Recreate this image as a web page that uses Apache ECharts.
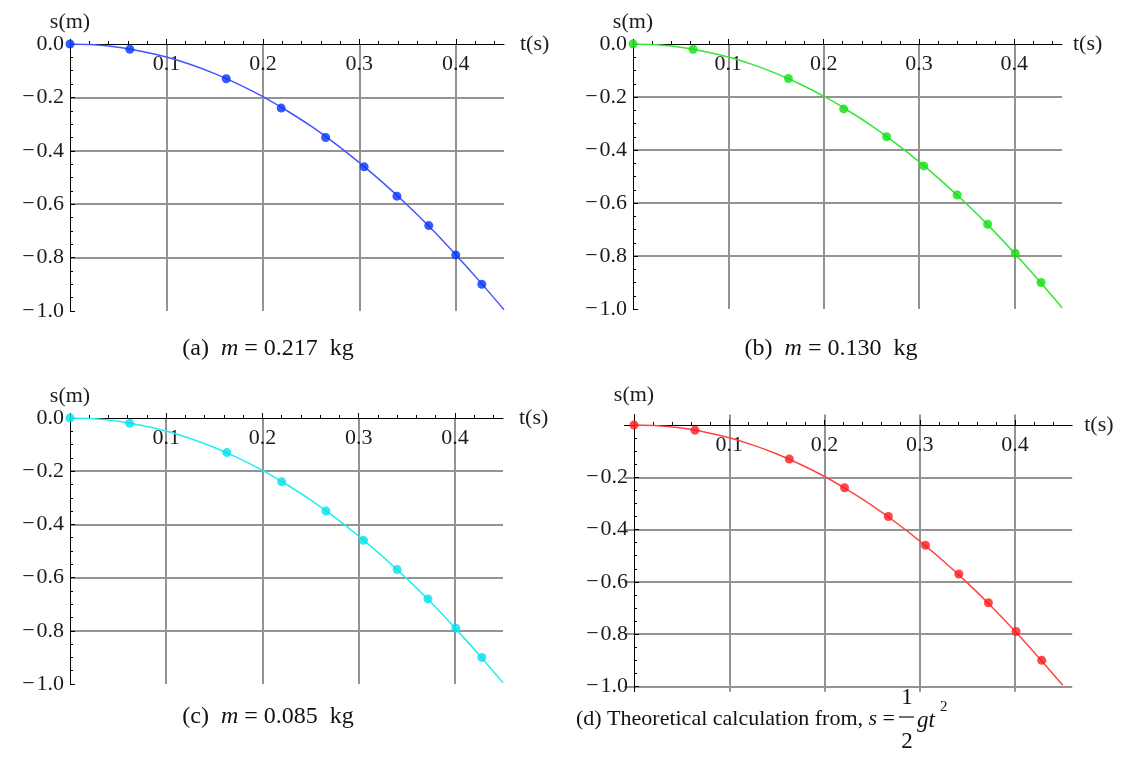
<!DOCTYPE html>
<html><head><meta charset="utf-8">
<script src="https://cdn.jsdelivr.net/npm/echarts@6/dist/echarts.min.js"></script>
<style>html,body{margin:0;padding:0;background:#fff}#c{width:1126px;height:780px}</style>
</head><body><div id="c"></div>
<script>
// ---------- data ----------
const tA = [0, 0.062, 0.162, 0.219, 0.265, 0.305, 0.339, 0.372, 0.400, 0.427];
const sA = [0, -0.02, -0.13, -0.24, -0.35, -0.46, -0.57, -0.68, -0.79, -0.90];
const tB = [0, 0.063, 0.163, 0.221, 0.266, 0.305, 0.340, 0.372, 0.401, 0.428];
const sB = [0, -0.02, -0.13, -0.245, -0.35, -0.46, -0.57, -0.68, -0.79, -0.90];
const tC = [0, 0.062, 0.163, 0.220, 0.266, 0.305, 0.340, 0.372, 0.401, 0.428];
const sC = [0, -0.02, -0.13, -0.24, -0.35, -0.46, -0.57, -0.68, -0.79, -0.90];
const tD = [0, 0.064, 0.163, 0.221, 0.267, 0.306, 0.341, 0.372, 0.401, 0.428];
const sD = [0, -0.02, -0.13, -0.24, -0.35, -0.46, -0.57, -0.68, -0.79, -0.90];

const curveT = [0, 0.025, 0.05, 0.075, 0.1, 0.125, 0.15, 0.175, 0.2, 0.225, 0.25, 0.275, 0.3, 0.325, 0.35, 0.375, 0.4, 0.425, 0.45];
const curveA = [0, -0.003, -0.012, -0.028, -0.049, -0.077, -0.111, -0.151, -0.197, -0.25, -0.308, -0.373, -0.444, -0.521, -0.604, -0.693, -0.789, -0.89, -0.995];
const curveB = [0, -0.003, -0.012, -0.028, -0.049, -0.077, -0.111, -0.151, -0.197, -0.25, -0.308, -0.373, -0.444, -0.521, -0.604, -0.693, -0.789, -0.89, -0.995];
const curveC = [0, -0.003, -0.012, -0.028, -0.049, -0.077, -0.111, -0.151, -0.197, -0.25, -0.308, -0.373, -0.444, -0.521, -0.604, -0.693, -0.789, -0.89, -0.995];
const curveD = [0, -0.003, -0.012, -0.028, -0.049, -0.077, -0.111, -0.151, -0.197, -0.25, -0.308, -0.373, -0.444, -0.521, -0.604, -0.693, -0.789, -0.89, -0.995];

// tick values
const xMajorTicks = [0, 0.1, 0.2, 0.3, 0.4];
const xTickLabels = [0.1, 0.2, 0.3, 0.4];
const xMinorTicks = [0.02, 0.04, 0.06, 0.08, 0.12, 0.14, 0.16, 0.18, 0.22, 0.24, 0.26, 0.28, 0.32, 0.34, 0.36, 0.38, 0.42, 0.44];
const yMajorTicks = [-1.0, -0.8, -0.6, -0.4, -0.2, 0];
const yMinorTicks = [-0.95, -0.9, -0.85, -0.75, -0.7, -0.65, -0.55, -0.5, -0.45, -0.35, -0.3, -0.25, -0.15, -0.1, -0.05];
const yTickLabelsABC = [-1.0, -0.8, -0.6, -0.4, -0.2, 0];
const yTickLabelsD = [-1.0, -0.8, -0.6, -0.4, -0.2];

const captionA = ['(a)  ', 'm', ' = 0.217  kg'];
const captionB = ['(b)  ', 'm', ' = 0.130  kg'];
const captionC = ['(c)  ', 'm', ' = 0.085  kg'];
const captionD = ['(d) Theoretical calculation from, ', 's', ' =', '1', '2', 'gt', '2'];

// ---------- layout / style ----------
const FONT = 'Liberation Serif';
const panels = [
  {t: tA, s: sA, c: curveA, left: 70, top: 44, width: 434, height: 267, xmin: 0, xmax: 0.45, ymin: -1.0, ymax: 0,
   yl: yTickLabelsABC, minLine: false, line: '#4455ff', dot: '#0033ff', xGap: 16, yGap: 9},
  {t: tB, s: sB, c: curveB, left: 633, top: 44, width: 429, height: 265, xmin: 0, xmax: 0.45, ymin: -1.0, ymax: 0,
   yl: yTickLabelsABC, minLine: false, line: '#33e833', dot: '#11dd11', xGap: 11, yGap: 9},
  {t: tC, s: sC, c: curveC, left: 70, top: 418, width: 433, height: 266, xmin: 0, xmax: 0.45, ymin: -1.0, ymax: 0,
   yl: yTickLabelsABC, minLine: false, line: '#22eeee', dot: '#00e0ee', xGap: 16, yGap: 9},
  {t: tD, s: sD, c: curveD, left: 624.5, top: 414.5, width: 447.7, height: 277.2, xmin: -0.01, xmax: 0.46, ymin: -1.02, ymax: 0.04,
   yl: yTickLabelsD, minLine: true, line: '#ff4444', dot: '#ff1a1a', xGap: 12, yGap: 8}
];

const labelStyle = {fontFamily: FONT, fontSize: 22, color: '#1c1c1c'};
const grid = [], xAxis = [], yAxis = [], series = [];
const fmtY = v => (Math.abs(v) < 1e-9 ? '0.0' : '\u2212\u200A' + Math.abs(v).toFixed(1));

panels.forEach((p, i) => {
  grid.push({left: p.left, top: p.top, width: p.width, height: p.height, containLabel: false});
  const xi = 2 * i, yi = 2 * i;
  // axes cross at (0,0): shift the top x axis down and the left y axis right to the zero position
  const xOff = -(p.ymax / (p.ymax - p.ymin)) * p.height;
  const yOff = -((0 - p.xmin) / (p.xmax - p.xmin)) * p.width;
  xAxis.push({
    type: 'value', gridIndex: i, min: p.xmin, max: p.xmax, position: 'top', offset: xOff,
    axisLine: {show: true, onZero: false, lineStyle: {color: '#000', width: 1}},
    axisTick: {show: true, inside: false, length: 5, customValues: xMajorTicks, lineStyle: {color: '#000', width: 1}},
    axisLabel: {show: true, inside: true, customValues: xTickLabels, formatter: v => v.toFixed(1), margin: 9, ...labelStyle},
    splitLine: {show: true, showMinLine: false, showMaxLine: true, lineStyle: {color: '#939393', width: 2}},
    minorTick: {show: false},
    name: 't(s)', nameLocation: 'end', nameGap: p.xGap,
    nameTextStyle: {fontFamily: FONT, fontSize: 22, color: '#1c1c1c', verticalAlign: 'middle'}
  });
  xAxis.push({
    type: 'value', gridIndex: i, min: p.xmin, max: p.xmax, position: 'top', offset: xOff,
    axisLine: {show: false, onZero: false},
    axisTick: {show: true, inside: false, length: 3, customValues: xMinorTicks, lineStyle: {color: '#000', width: 1}},
    axisLabel: {show: false}, splitLine: {show: false}
  });
  yAxis.push({
    type: 'value', gridIndex: i, min: p.ymin, max: p.ymax, position: 'left', offset: yOff,
    axisLine: {show: true, onZero: false, lineStyle: {color: '#000', width: 1}},
    axisTick: {show: true, inside: true, length: 5, customValues: yMajorTicks, lineStyle: {color: '#000', width: 1}},
    axisLabel: {show: true, customValues: p.yl, formatter: fmtY, margin: 6, ...labelStyle},
    splitLine: {show: true, showMinLine: p.minLine, showMaxLine: false, lineStyle: {color: '#939393', width: 2}},
    minorTick: {show: false},
    name: 's(m)', nameLocation: 'end', nameGap: p.yGap,
    nameTextStyle: {fontFamily: FONT, fontSize: 22, color: '#1c1c1c'}
  });
  yAxis.push({
    type: 'value', gridIndex: i, min: p.ymin, max: p.ymax, position: 'left', offset: yOff,
    axisLine: {show: false, onZero: false},
    axisTick: {show: true, inside: true, length: 3, customValues: yMinorTicks, lineStyle: {color: '#000', width: 1}},
    axisLabel: {show: false}, splitLine: {show: false}
  });
  series.push({
    type: 'line', xAxisIndex: xi, yAxisIndex: yi, data: curveT.map((t, k) => [t, p.c[k]]),
    showSymbol: false, smooth: 0.3, lineStyle: {color: p.line, width: 1.5}, silent: true, z: 3
  });
  series.push({
    type: 'scatter', xAxisIndex: xi, yAxisIndex: yi, data: p.t.map((t, k) => [t, p.s[k]]),
    symbol: 'circle', symbolSize: 9, itemStyle: {color: p.dot}, silent: true, z: 4
  });
});

function caption(parts, x, y) {
  return {
    type: 'text', x: x, y: y, z: 10,
    style: {
      text: '{r|' + parts[0] + '}{i|' + parts[1] + '}{r|' + parts[2] + '}',
      align: 'center', verticalAlign: 'middle',
      rich: {
        r: {fontFamily: FONT, fontSize: 24, fill: '#111'},
        i: {fontFamily: FONT, fontSize: 24, fontStyle: 'italic', fill: '#111'}
      }
    }
  };
}

const graphic = [
  caption(captionA, 268, 349),
  caption(captionB, 831, 349),
  caption(captionC, 268, 717),
  {type: 'text', x: 895, y: 719, z: 10, style: {
    text: '{r|' + captionD[0] + '}{i|' + captionD[1] + '}{r|' + captionD[2] + '}',
    align: 'right', verticalAlign: 'middle',
    rich: {
      r: {fontFamily: FONT, fontSize: 22, fill: '#111'},
      i: {fontFamily: FONT, fontSize: 22, fontStyle: 'italic', fill: '#111'}
    }}},
  {type: 'text', x: 907, y: 698, z: 10, style: {text: captionD[3], fontFamily: FONT, fontSize: 23, fill: '#111', align: 'center', verticalAlign: 'middle'}},
  {type: 'line', z: 10, shape: {x1: 899, y1: 717, x2: 914, y2: 717}, style: {stroke: '#111', lineWidth: 1.2}},
  {type: 'text', x: 907, y: 742, z: 10, style: {text: captionD[4], fontFamily: FONT, fontSize: 23, fill: '#111', align: 'center', verticalAlign: 'middle'}},
  {type: 'text', x: 917, y: 721, z: 10, style: {text: captionD[5], fontFamily: FONT, fontSize: 23, fontStyle: 'italic', fill: '#111', verticalAlign: 'middle'}},
  {type: 'text', x: 940, y: 707, z: 10, style: {text: captionD[6], fontFamily: FONT, fontSize: 15, fill: '#111', verticalAlign: 'middle'}}
];

const chart = echarts.init(document.getElementById('c'), null, {renderer: 'canvas'});
chart.setOption({
  animation: false,
  backgroundColor: '#fff',
  grid, xAxis, yAxis, series, graphic
});
</script></body></html>
